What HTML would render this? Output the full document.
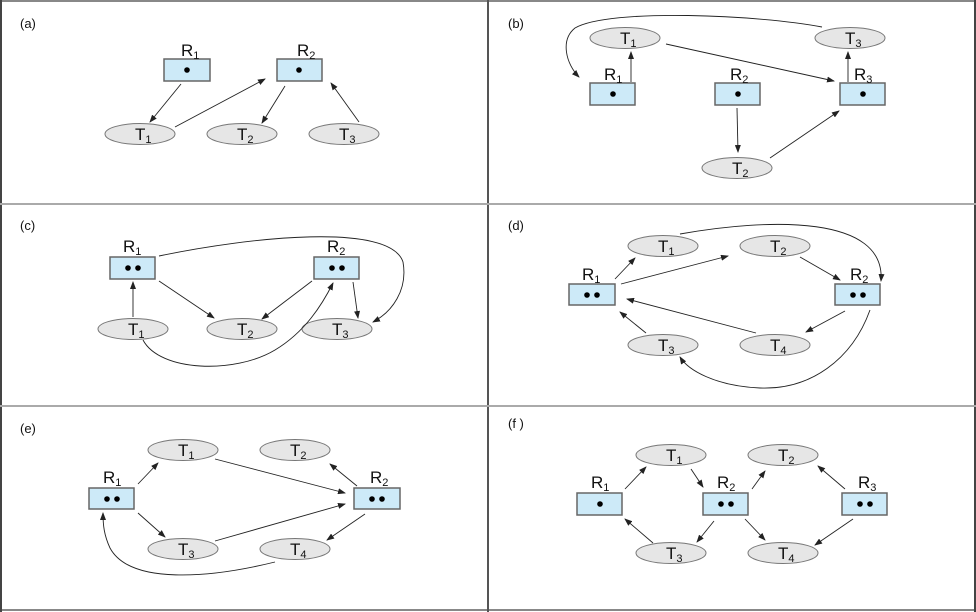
<!DOCTYPE html>
<html><head><meta charset="utf-8"><style>
html,body{margin:0;padding:0;background:#fff;}
svg{display:block;}
text{font-family:"Liberation Sans",sans-serif;fill:#111;}
.lbl{font-size:17px;}
.sub{font-size:11px;}
.pl{font-size:13px;}
.b{fill:#cdeaf8;stroke:#666;stroke-width:1.5;}
.e{fill:#e6e6e6;stroke:#777;stroke-width:1;}
.a{stroke:#222;stroke-width:0.9;fill:none;marker-end:url(#ah);}
</style></head><body>
<svg width="976" height="612" viewBox="0 0 976 612" xmlns="http://www.w3.org/2000/svg">
<defs><marker id="ah" markerWidth="8" markerHeight="6" refX="7" refY="3" orient="auto" markerUnits="userSpaceOnUse"><path d="M0,0 L8,3 L0,6 z" fill="#222"/></marker></defs>
<!-- frame -->
<line x1="0" y1="1" x2="976" y2="1" stroke="#888" stroke-width="2"/>
<line x1="0" y1="610" x2="976" y2="610" stroke="#888" stroke-width="2"/>
<line x1="1" y1="0" x2="1" y2="612" stroke="#444" stroke-width="2"/>
<line x1="975" y1="0" x2="975" y2="612" stroke="#444" stroke-width="2"/>
<line x1="488" y1="0" x2="488" y2="612" stroke="#555" stroke-width="2"/>
<line x1="0" y1="204" x2="976" y2="204" stroke="#aaa" stroke-width="2"/>
<line x1="0" y1="406" x2="976" y2="406" stroke="#aaa" stroke-width="2"/>

<!-- (a) -->
<text class="pl" x="20" y="28">(a)</text>
<rect class="b" x="164" y="59" width="46" height="22"/><circle cx="187" cy="70" r="2.8"/>
<rect class="b" x="277" y="59" width="45" height="22"/><circle cx="299" cy="70" r="2.8"/>
<text class="lbl" x="181" y="56">R<tspan class="sub" dy="3">1</tspan></text>
<text class="lbl" x="297" y="56">R<tspan class="sub" dy="3">2</tspan></text>
<ellipse class="e" cx="140" cy="134" rx="35" ry="10.5"/><text class="lbl" x="135" y="140">T<tspan class="sub" dy="3">1</tspan></text>
<ellipse class="e" cx="242" cy="134" rx="35" ry="10.5"/><text class="lbl" x="237" y="140">T<tspan class="sub" dy="3">2</tspan></text>
<ellipse class="e" cx="344" cy="134" rx="35" ry="10.5"/><text class="lbl" x="339" y="140">T<tspan class="sub" dy="3">3</tspan></text>
<path class="a" d="M181,84 L150,122"/>
<path class="a" d="M175,127 L265,79"/>
<path class="a" d="M285,86 L262,123"/>
<path class="a" d="M359,122 L331,83"/>

<!-- (b) -->
<text class="pl" x="508" y="28">(b)</text>
<ellipse class="e" cx="625" cy="38" rx="35" ry="10.5"/><text class="lbl" x="620" y="44">T<tspan class="sub" dy="3">1</tspan></text>
<ellipse class="e" cx="850" cy="38" rx="35" ry="10.5"/><text class="lbl" x="845" y="44">T<tspan class="sub" dy="3">3</tspan></text>
<rect class="b" x="590" y="83" width="45" height="22"/><circle cx="613" cy="94" r="2.8"/>
<rect class="b" x="715" y="83" width="45" height="22"/><circle cx="738" cy="94" r="2.8"/>
<rect class="b" x="840" y="83" width="45" height="22"/><circle cx="863" cy="94" r="2.8"/>
<text class="lbl" x="604" y="80">R<tspan class="sub" dy="3">1</tspan></text>
<text class="lbl" x="730" y="80">R<tspan class="sub" dy="3">2</tspan></text>
<text class="lbl" x="854" y="80">R<tspan class="sub" dy="3">3</tspan></text>
<ellipse class="e" cx="737" cy="168" rx="35" ry="10.5"/><text class="lbl" x="732" y="174">T<tspan class="sub" dy="3">2</tspan></text>
<path class="a" d="M631,82 L631,52"/>
<path class="a" d="M666,44 L834,81"/>
<path class="a" d="M848,82 L848,52"/>
<path class="a" d="M737,108 L738,152"/>
<path class="a" d="M770,158 L839,111"/>
<path class="a" d="M822,27 C760,15 610,8 575,28 C560,40 566,64 579,77"/>

<!-- (c) -->
<text class="pl" x="20" y="230">(c)</text>
<rect class="b" x="110" y="257" width="45" height="22"/><circle cx="128" cy="268" r="2.8"/><circle cx="138" cy="268" r="2.8"/>
<rect class="b" x="314" y="257" width="45" height="22"/><circle cx="332" cy="268" r="2.8"/><circle cx="342" cy="268" r="2.8"/>
<text class="lbl" x="123" y="252">R<tspan class="sub" dy="3">1</tspan></text>
<text class="lbl" x="327" y="252">R<tspan class="sub" dy="3">2</tspan></text>
<ellipse class="e" cx="133" cy="329" rx="35" ry="10.5"/><text class="lbl" x="128" y="335">T<tspan class="sub" dy="3">1</tspan></text>
<ellipse class="e" cx="242" cy="329" rx="35" ry="10.5"/><text class="lbl" x="237" y="335">T<tspan class="sub" dy="3">2</tspan></text>
<ellipse class="e" cx="337" cy="329" rx="35" ry="10.5"/><text class="lbl" x="332" y="335">T<tspan class="sub" dy="3">3</tspan></text>
<path class="a" d="M133,317 L133,282"/>
<path class="a" d="M159,281 L214,318"/>
<path class="a" d="M312,281 L262,319"/>
<path class="a" d="M353,282 L358,318"/>
<path class="a" d="M159,256 C250,237 390,222 403,262 C408,290 392,312 373,322"/>
<path class="a" d="M143,340 C160,372 235,374 275,350 C305,332 322,305 333,283"/>

<!-- (d) -->
<text class="pl" x="508" y="230">(d)</text>
<ellipse class="e" cx="663" cy="246" rx="35" ry="10.5"/><text class="lbl" x="658" y="252">T<tspan class="sub" dy="3">1</tspan></text>
<ellipse class="e" cx="775" cy="246" rx="35" ry="10.5"/><text class="lbl" x="770" y="252">T<tspan class="sub" dy="3">2</tspan></text>
<rect class="b" x="569" y="284" width="46" height="21"/><circle cx="587" cy="295" r="2.8"/><circle cx="597" cy="295" r="2.8"/>
<rect class="b" x="835" y="284" width="45" height="21"/><circle cx="853" cy="295" r="2.8"/><circle cx="863" cy="295" r="2.8"/>
<text class="lbl" x="582" y="280">R<tspan class="sub" dy="3">1</tspan></text>
<text class="lbl" x="850" y="280">R<tspan class="sub" dy="3">2</tspan></text>
<ellipse class="e" cx="663" cy="345" rx="35" ry="10.5"/><text class="lbl" x="658" y="351">T<tspan class="sub" dy="3">3</tspan></text>
<ellipse class="e" cx="775" cy="345" rx="35" ry="10.5"/><text class="lbl" x="770" y="351">T<tspan class="sub" dy="3">4</tspan></text>
<path class="a" d="M615,279 L635,258"/>
<path class="a" d="M621,284 L728,256"/>
<path class="a" d="M800,257 L840,280"/>
<path class="a" d="M680,234 C770,218 886,215 881,281"/>
<path class="a" d="M845,311 L806,332"/>
<path class="a" d="M756,333 L627,299"/>
<path class="a" d="M646,333 L620,312"/>
<path class="a" d="M870,310 C852,360 810,390 760,388 C715,386 688,370 680,357"/>

<!-- (e) -->
<text class="pl" x="20" y="433">(e)</text>
<ellipse class="e" cx="183" cy="450" rx="35" ry="10.5"/><text class="lbl" x="178" y="456">T<tspan class="sub" dy="3">1</tspan></text>
<ellipse class="e" cx="295" cy="450" rx="35" ry="10.5"/><text class="lbl" x="290" y="456">T<tspan class="sub" dy="3">2</tspan></text>
<rect class="b" x="89" y="488" width="45" height="21"/><circle cx="107" cy="499" r="2.8"/><circle cx="117" cy="499" r="2.8"/>
<rect class="b" x="354" y="488" width="46" height="21"/><circle cx="372" cy="499" r="2.8"/><circle cx="382" cy="499" r="2.8"/>
<text class="lbl" x="103" y="483">R<tspan class="sub" dy="3">1</tspan></text>
<text class="lbl" x="370" y="483">R<tspan class="sub" dy="3">2</tspan></text>
<ellipse class="e" cx="183" cy="549" rx="35" ry="10.5"/><text class="lbl" x="178" y="555">T<tspan class="sub" dy="3">3</tspan></text>
<ellipse class="e" cx="295" cy="549" rx="35" ry="10.5"/><text class="lbl" x="290" y="555">T<tspan class="sub" dy="3">4</tspan></text>
<path class="a" d="M138,484 L158,463"/>
<path class="a" d="M215,459 L345,493"/>
<path class="a" d="M357,486 L330,464"/>
<path class="a" d="M138,513 L165,537"/>
<path class="a" d="M215,541 L345,504"/>
<path class="a" d="M365,514 L327,540"/>
<path class="a" d="M275,562 C210,578 130,585 110,548 C104,535 103,525 103,513"/>

<!-- (f) -->
<text class="pl" x="508" y="428">(f )</text>
<ellipse class="e" cx="671" cy="455" rx="35" ry="10.5"/><text class="lbl" x="666" y="461">T<tspan class="sub" dy="3">1</tspan></text>
<ellipse class="e" cx="783" cy="455" rx="35" ry="10.5"/><text class="lbl" x="778" y="461">T<tspan class="sub" dy="3">2</tspan></text>
<rect class="b" x="577" y="493" width="45" height="22"/><circle cx="600" cy="504" r="2.8"/>
<rect class="b" x="703" y="493" width="45" height="22"/><circle cx="721" cy="504" r="2.8"/><circle cx="731" cy="504" r="2.8"/>
<rect class="b" x="842" y="493" width="45" height="22"/><circle cx="860" cy="504" r="2.8"/><circle cx="870" cy="504" r="2.8"/>
<text class="lbl" x="591" y="488">R<tspan class="sub" dy="3">1</tspan></text>
<text class="lbl" x="717" y="488">R<tspan class="sub" dy="3">2</tspan></text>
<text class="lbl" x="858" y="488">R<tspan class="sub" dy="3">3</tspan></text>
<ellipse class="e" cx="671" cy="553" rx="35" ry="10.5"/><text class="lbl" x="666" y="559">T<tspan class="sub" dy="3">3</tspan></text>
<ellipse class="e" cx="783" cy="553" rx="35" ry="10.5"/><text class="lbl" x="778" y="559">T<tspan class="sub" dy="3">4</tspan></text>
<path class="a" d="M625,489 L646,467"/>
<path class="a" d="M691,469 L703,487"/>
<path class="a" d="M752,489 L765,471"/>
<path class="a" d="M845,489 L818,466"/>
<path class="a" d="M714,521 L697,542"/>
<path class="a" d="M653,543 L625,519"/>
<path class="a" d="M745,519 L765,540"/>
<path class="a" d="M853,519 L815,545"/>
</svg>
</body></html>
